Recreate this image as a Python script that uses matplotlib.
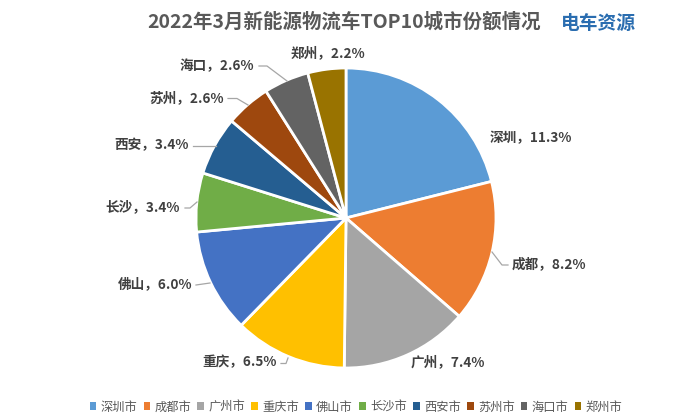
import matplotlib
matplotlib.use("Agg")
import matplotlib.pyplot as plt

plt.rcParams['font.family'] = ['Noto Sans CJK SC', 'DejaVu Sans']

cities = ['深圳', '成都', '广州', '重庆', '佛山', '长沙', '西安', '苏州', '海口', '郑州']
legend_names = ['深圳市', '成都市', '广州市', '重庆市', '佛山市', '长沙市', '西安市', '苏州市', '海口市', '郑州市']
shares = [11.3, 8.2, 7.4, 6.5, 6.0, 3.4, 3.4, 2.6, 2.6, 2.2]
colors = ['#5B9BD5', '#ED7D31', '#A5A5A5', '#FFC000', '#4472C4',
          '#70AD47', '#255E91', '#9E480E', '#636363', '#997300']
# label centres, pixels from the top-left corner
label_px = [(531, 138), (549, 265), (448, 362), (240, 362), (155.5, 284),
            (143, 207), (152, 145), (187, 98), (217, 66), (328, 53)]
leaders = [[(492, 252), (502, 265), (508, 265)],
           [(281, 363.5), (286, 363.5), (288, 358)],
           [(196, 285), (210, 283)],
           [(185, 208), (190, 208), (197, 202)],
           [(193, 146), (216, 146)],
           [(228, 98.5), (237, 98.5), (248, 105)],
           [(259, 66), (267, 66), (287, 81)]]

W, H = 700, 420
fig = plt.figure(figsize=(7, 4.2), dpi=100, facecolor='white')
R = 150
cx, cy = 346, 218
ax = fig.add_axes([(cx - R) / W, 1 - (cy + R) / H, 2 * R / W, 2 * R / H])
wedges, _ = ax.pie(shares, colors=colors, startangle=90, counterclock=False, radius=1,
                   wedgeprops=dict(edgecolor='white', linewidth=2))
ax.set_xlim(-1, 1)
ax.set_ylim(-1, 1)
ax.set_aspect('equal')

for name, v, (x, y) in zip(cities, shares, label_px):
    fig.text(x / W, 1 - y / H, f'{name}，{v:.1f}%', ha='center', va='center',
             fontsize=9.8, fontweight='bold', color='#404040')
for pts in leaders:
    fig.add_artist(plt.Line2D([p[0] / W for p in pts], [1 - p[1] / H for p in pts],
                              color='#A6A6A6', lw=0.9, transform=fig.transFigure))

fig.text(344 / W, 1 - 22 / H, '2022年3月新能源物流车TOP10城市份额情况', ha='center', va='center',
         fontsize=14, fontweight='bold', color='#595959')
fig.text(598 / W, 1 - 23 / H, '电车资源', ha='center', va='center',
         fontsize=13.5, fontweight='bold', color='#2A6DB0')

leg = fig.legend(wedges, legend_names, loc='center', bbox_to_anchor=(356 / W, 1 - 407 / H),
                 ncol=10, frameon=False, fontsize=8.8, labelcolor='#595959',
                 handlelength=0.55, handleheight=0.55, handletextpad=0.35, columnspacing=0.5,
                 borderpad=0, borderaxespad=0)
for h in leg.legend_handles:
    h.set_edgecolor('none')

fig.savefig('out.png', dpi=100, facecolor='white')
